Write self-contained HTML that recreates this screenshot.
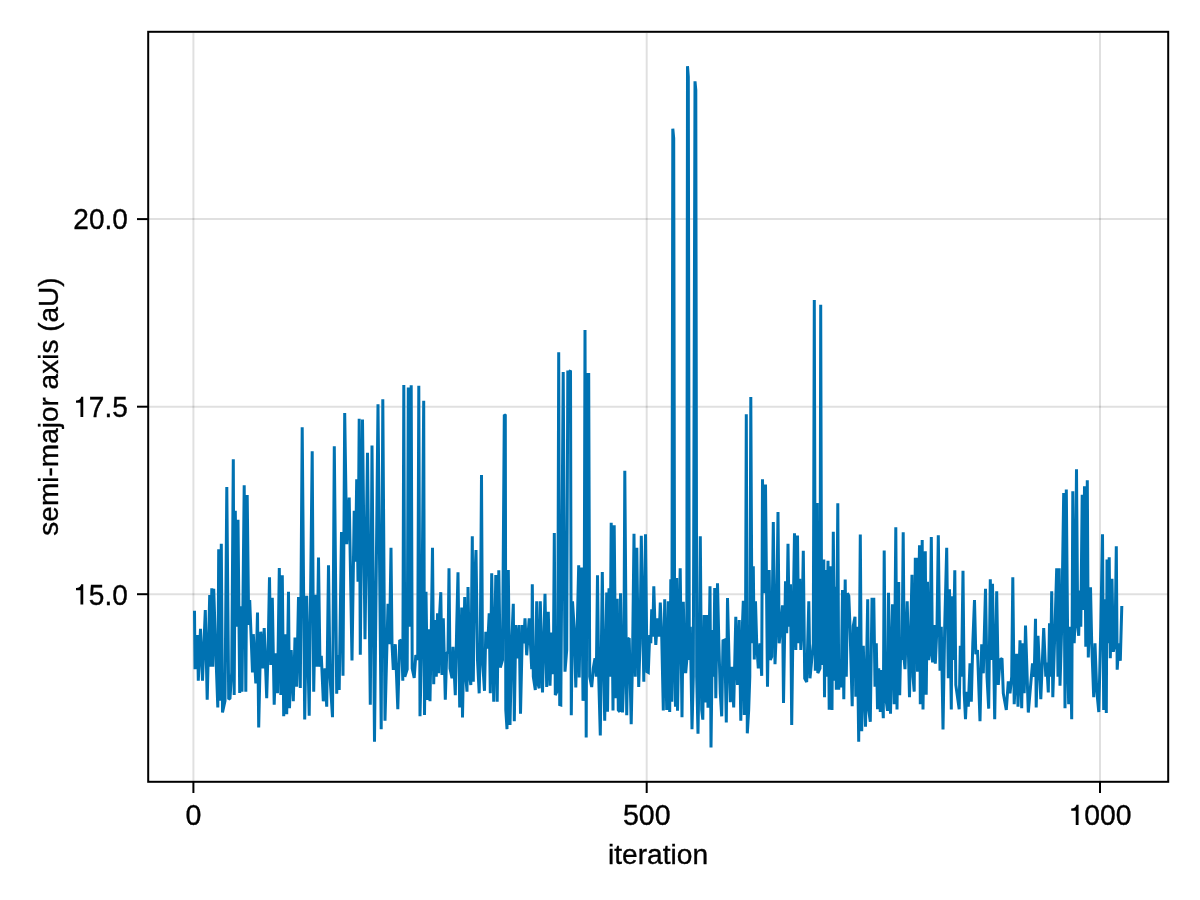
<!DOCTYPE html>
<html><head><meta charset="utf-8"><title>chart</title>
<style>
html,body{margin:0;padding:0;background:#fff;}
body{width:1200px;height:900px;overflow:hidden;}
svg{display:block;}
text{font-family:"Liberation Sans",sans-serif;font-size:28px;fill:#000;}
</style></head><body>
<svg width="1200" height="900" viewBox="0 0 1200 900">
<rect x="0" y="0" width="1200" height="900" fill="#fff"/>
<g stroke="#000" stroke-opacity="0.12" stroke-width="2" fill="none">
<line x1="193.4" y1="33" x2="193.4" y2="782"/>
<line x1="646.7" y1="33" x2="646.7" y2="782"/>
<line x1="1100" y1="33" x2="1100" y2="782"/>
<line x1="149" y1="219.1" x2="1168" y2="219.1"/>
<line x1="149" y1="406.7" x2="1168" y2="406.7"/>
<line x1="149" y1="594.2" x2="1168" y2="594.2"/>
</g>
<path d="M194.5 610.8 L195.0 669.2 L197.5 635.0 L198.3 680.8 L200.5 628.7 L202.5 680.8 L205.3 610.0 L207.2 699.7 L209.7 595.0 L210.7 666.7 L211.8 588.3 L212.8 666.7 L213.7 588.7 L215.5 643.3 L217.8 707.5 L218.7 549.2 L220.0 700.8 L221.3 543.7 L222.5 712.5 L225.0 700.8 L226.8 487.0 L228.7 699.2 L230.0 698.3 L231.7 672.5 L233.3 459.2 L234.2 695.0 L235.3 510.8 L236.7 626.7 L238.0 519.7 L239.7 693.0 L240.8 606.3 L242.0 691.7 L244.2 485.3 L245.8 691.7 L247.2 495.0 L248.7 625.0 L249.7 600.0 L252.5 672.5 L253.3 634.2 L255.8 683.3 L257.5 612.5 L258.7 727.5 L260.8 631.7 L262.8 668.3 L264.2 628.0 L266.7 698.3 L268.3 640.8 L269.5 577.2 L270.8 665.0 L272.3 597.8 L274.2 704.7 L275.8 653.3 L277.5 693.3 L279.3 568.0 L280.8 695.0 L282.3 575.3 L283.7 716.3 L285.0 634.2 L286.7 714.2 L288.5 591.7 L289.5 708.3 L291.2 650.0 L293.3 701.3 L295.0 637.5 L296.7 686.7 L298.5 597.0 L300.3 688.0 L302.2 427.2 L304.7 719.5 L306.7 595.8 L309.2 715.8 L312.2 451.3 L313.7 691.7 L315.5 594.7 L317.0 666.7 L318.5 557.5 L320.0 666.7 L321.3 655.8 L323.3 701.3 L325.0 668.3 L326.7 706.7 L328.5 565.3 L330.0 676.7 L332.5 717.2 L334.3 446.2 L336.7 693.8 L338.0 655.0 L339.2 690.0 L341.5 532.0 L343.0 675.8 L344.7 413.0 L346.7 544.2 L349.2 497.5 L352.0 660.5 L354.2 510.8 L355.5 561.7 L356.7 479.2 L358.0 581.7 L359.2 418.7 L360.3 654.7 L362.5 419.5 L365.0 639.2 L367.5 452.8 L370.3 704.7 L372.0 445.5 L374.5 741.7 L378.0 404.2 L381.2 729.2 L382.8 399.2 L385.0 720.8 L388.0 603.7 L389.5 644.2 L391.0 547.8 L392.0 644.2 L393.3 670.0 L395.3 644.2 L397.8 709.2 L399.7 640.0 L401.7 641.7 L402.8 680.8 L403.8 385.0 L404.8 676.7 L407.2 669.2 L408.3 387.5 L409.3 626.7 L411.2 385.3 L412.2 668.3 L414.2 678.0 L415.8 655.0 L417.7 660.0 L418.8 385.8 L420.0 716.3 L421.7 643.3 L423.7 400.8 L424.5 715.0 L426.0 591.7 L427.5 700.0 L428.7 629.2 L430.0 701.3 L431.3 630.0 L432.5 547.8 L433.7 684.2 L435.0 620.0 L436.3 676.7 L437.5 613.3 L438.7 673.3 L439.7 612.5 L440.8 592.2 L442.0 675.0 L443.3 618.3 L445.3 699.7 L446.7 653.3 L448.0 651.7 L449.0 568.3 L450.0 668.3 L452.0 678.3 L453.0 646.7 L455.3 695.3 L456.7 626.7 L458.0 572.2 L459.7 707.5 L461.7 607.5 L462.5 717.5 L464.7 597.0 L465.8 676.7 L467.0 691.7 L468.0 587.0 L469.7 676.7 L470.8 685.0 L472.3 536.2 L473.3 681.7 L474.3 593.3 L476.0 550.0 L477.5 660.0 L479.2 693.3 L480.3 643.3 L481.5 475.0 L482.5 660.0 L484.5 690.8 L485.8 631.7 L487.5 648.7 L489.2 613.3 L490.3 693.3 L491.7 573.3 L493.7 701.7 L495.8 575.0 L497.2 701.7 L498.8 570.3 L500.3 667.5 L502.5 660.0 L504.3 414.7 L505.3 415.3 L505.8 710.0 L507.0 729.2 L508.3 570.0 L510.0 725.0 L511.7 643.3 L513.3 603.7 L514.3 721.3 L515.8 625.0 L517.5 658.3 L519.2 625.0 L520.5 713.7 L522.5 625.0 L523.7 643.3 L525.0 618.3 L526.7 655.3 L529.2 618.3 L531.7 669.2 L532.3 584.2 L533.3 676.7 L535.3 690.0 L536.7 601.2 L538.3 685.0 L539.2 688.3 L540.3 601.2 L542.5 692.5 L545.0 593.8 L546.7 687.0 L548.3 611.7 L550.0 685.8 L551.7 632.5 L553.3 674.2 L554.3 533.0 L555.3 695.0 L557.7 690.0 L558.7 352.2 L559.7 704.7 L560.8 705.0 L563.2 372.0 L565.0 671.7 L566.7 650.0 L567.8 372.0 L569.3 372.0 L570.5 370.5 L571.3 715.3 L572.5 601.3 L574.2 628.3 L575.8 687.5 L577.2 628.3 L578.7 565.3 L579.2 677.5 L580.3 610.0 L581.7 567.5 L583.0 700.8 L584.0 693.3 L585.0 330.0 L586.2 737.5 L587.5 374.5 L588.7 374.5 L589.7 676.7 L591.7 687.0 L593.3 668.3 L595.0 658.3 L596.3 676.7 L597.5 575.3 L598.7 676.7 L600.3 735.5 L602.3 572.0 L603.3 643.3 L604.7 720.8 L606.7 592.5 L607.5 711.7 L609.0 588.3 L610.0 676.7 L611.2 522.8 L613.0 710.5 L614.2 525.3 L615.8 698.3 L617.2 598.7 L618.3 710.0 L619.7 711.7 L620.5 593.3 L622.5 712.5 L623.8 676.7 L624.8 470.8 L626.7 715.3 L628.0 639.2 L629.2 638.3 L631.2 724.2 L632.5 660.0 L634.0 533.7 L635.3 676.7 L636.8 547.8 L638.7 687.0 L640.0 643.3 L641.3 535.8 L643.8 681.7 L645.5 534.2 L647.0 671.7 L648.3 672.5 L649.7 635.0 L650.8 643.3 L651.7 609.2 L652.7 636.7 L653.8 586.2 L655.0 626.7 L655.8 645.0 L657.5 618.3 L659.2 636.7 L660.3 602.5 L661.7 635.0 L663.3 710.5 L664.7 599.2 L666.7 710.0 L668.3 601.3 L669.7 712.0 L670.8 579.2 L671.8 701.7 L672.8 128.7 L673.7 138.3 L674.7 676.7 L675.5 706.7 L676.7 578.0 L677.5 710.8 L678.7 643.3 L680.2 568.3 L682.0 717.2 L683.3 601.7 L685.0 671.7 L685.8 671.7 L686.8 660.0 L687.5 66.2 L688.3 76.7 L689.3 660.0 L690.3 626.7 L692.0 729.2 L693.3 676.7 L695.0 81.3 L695.8 90.0 L696.7 676.7 L698.0 733.7 L699.2 660.0 L700.3 536.2 L701.7 710.0 L702.8 719.7 L704.2 615.0 L705.3 702.5 L706.7 615.0 L708.0 707.8 L710.0 586.3 L711.0 747.5 L712.5 630.0 L713.7 676.7 L714.7 588.0 L715.8 698.3 L717.5 583.3 L718.8 640.8 L720.3 693.3 L721.7 716.3 L723.0 640.8 L724.7 640.0 L726.3 722.5 L727.5 598.0 L729.2 666.7 L730.3 702.2 L731.7 666.7 L733.7 707.5 L735.8 616.7 L737.5 685.0 L739.2 620.0 L740.8 720.8 L742.5 623.3 L743.3 600.8 L744.3 715.0 L745.3 693.3 L746.3 414.2 L747.3 733.3 L748.7 710.0 L749.8 676.7 L750.8 397.0 L752.0 643.3 L753.3 566.2 L754.3 659.5 L755.5 601.3 L756.7 643.3 L758.3 668.3 L760.0 643.3 L761.7 675.8 L762.5 479.2 L764.0 593.3 L765.5 484.5 L767.5 686.7 L769.2 570.0 L770.3 660.0 L771.7 656.7 L773.3 522.0 L775.0 664.2 L776.5 626.7 L778.0 512.0 L779.2 643.3 L780.8 626.7 L782.5 605.3 L783.5 703.0 L785.5 581.2 L786.7 633.3 L788.0 543.8 L789.2 626.7 L790.5 584.2 L791.7 725.0 L793.0 626.7 L794.5 533.3 L795.8 650.0 L797.5 535.5 L798.7 643.3 L799.7 578.7 L800.8 650.0 L802.0 626.7 L803.3 550.8 L804.7 678.3 L806.7 682.0 L808.8 601.3 L810.0 678.3 L811.7 660.0 L813.3 643.3 L814.3 300.0 L815.3 670.8 L817.2 503.0 L817.8 673.0 L820.0 668.3 L820.7 304.8 L821.7 665.0 L823.8 559.5 L824.5 697.2 L825.5 570.0 L826.3 676.7 L828.0 560.8 L829.2 709.7 L830.8 566.2 L832.0 710.0 L833.3 531.7 L834.7 680.8 L835.5 586.7 L836.3 689.7 L837.8 503.3 L838.7 689.7 L840.0 660.0 L841.2 687.5 L842.5 590.0 L843.8 699.2 L845.2 579.5 L846.3 676.7 L847.5 593.3 L848.8 595.8 L850.0 626.7 L852.2 706.3 L853.3 625.8 L855.0 616.7 L855.8 696.7 L857.2 626.7 L858.7 741.7 L860.3 534.5 L861.7 731.3 L863.3 645.8 L865.5 726.7 L867.7 599.2 L868.7 710.0 L870.3 721.7 L872.0 599.2 L873.8 599.2 L875.0 686.7 L876.3 643.3 L877.5 709.2 L878.7 668.3 L880.3 712.0 L881.2 670.0 L883.3 718.3 L884.2 550.5 L885.3 693.3 L887.5 710.8 L888.5 592.8 L890.5 713.7 L892.5 604.2 L894.2 704.2 L895.8 527.2 L897.0 709.5 L898.7 582.0 L899.7 695.3 L900.8 643.3 L902.0 660.0 L903.2 532.2 L904.2 660.0 L905.0 669.2 L907.2 601.3 L909.5 697.2 L910.8 626.7 L912.0 574.7 L913.0 676.7 L914.2 691.7 L915.3 559.2 L916.7 559.2 L917.5 671.7 L919.5 545.3 L920.3 704.2 L922.2 540.0 L923.0 709.5 L925.3 551.2 L926.2 694.7 L927.5 581.7 L928.7 660.0 L930.0 651.7 L931.3 537.0 L932.5 662.5 L934.2 625.0 L935.3 663.8 L937.0 626.7 L938.3 535.3 L940.0 670.8 L941.3 626.7 L943.0 729.5 L944.7 626.7 L946.7 547.8 L948.3 678.3 L949.5 589.2 L951.3 709.5 L952.0 596.3 L953.3 660.0 L954.8 570.3 L955.8 685.0 L959.2 709.2 L960.3 645.8 L961.5 676.7 L963.0 570.8 L964.2 693.3 L965.5 719.2 L966.7 691.7 L968.3 706.7 L970.0 663.3 L971.3 701.7 L972.8 643.3 L974.5 600.0 L975.8 654.2 L977.5 650.0 L980.0 721.2 L981.7 644.2 L983.3 673.3 L985.5 588.7 L987.0 676.7 L988.7 708.7 L990.3 579.2 L991.7 660.0 L992.5 583.8 L994.7 719.2 L996.7 591.3 L998.3 685.0 L1000.0 660.0 L1002.0 658.3 L1003.3 693.3 L1006.3 710.0 L1008.3 681.3 L1010.0 693.3 L1011.7 676.7 L1012.8 577.2 L1014.2 704.2 L1016.7 653.7 L1018.0 706.7 L1020.0 640.3 L1021.7 708.3 L1022.8 643.3 L1024.2 693.3 L1025.5 625.5 L1028.3 712.5 L1032.5 663.3 L1034.2 676.7 L1035.5 618.7 L1036.2 707.5 L1038.0 635.8 L1040.8 699.2 L1043.7 628.0 L1045.8 676.7 L1046.7 662.5 L1048.3 692.5 L1049.5 623.3 L1050.5 676.7 L1051.7 591.3 L1052.8 697.2 L1055.0 626.7 L1056.7 568.3 L1058.0 676.7 L1059.2 568.3 L1060.0 685.8 L1061.7 626.7 L1063.7 493.0 L1065.0 708.3 L1066.3 489.5 L1068.0 676.7 L1068.7 704.2 L1070.0 626.7 L1071.7 719.2 L1072.8 491.2 L1074.2 643.3 L1075.3 610.0 L1076.5 469.2 L1077.7 626.7 L1078.7 635.8 L1079.7 590.5 L1080.8 626.7 L1082.2 494.7 L1083.3 610.0 L1084.5 486.2 L1085.8 646.7 L1087.3 480.3 L1088.3 657.5 L1089.7 610.0 L1090.5 587.2 L1091.7 643.3 L1093.7 697.2 L1095.0 643.3 L1096.7 690.0 L1098.8 712.0 L1100.8 626.7 L1102.5 534.2 L1103.7 710.0 L1105.0 599.2 L1106.3 713.0 L1107.0 559.5 L1108.0 643.3 L1109.2 557.2 L1110.3 658.3 L1112.0 578.7 L1113.3 651.7 L1115.0 643.3 L1116.3 546.2 L1117.2 669.7 L1118.7 643.3 L1120.3 660.8 L1121.8 606.0" fill="none" stroke="#0072B2" stroke-width="3" stroke-linejoin="miter" stroke-miterlimit="2" stroke-linecap="butt"/>
<rect x="148.2" y="31.8" width="1020" height="750" fill="none" stroke="#000" stroke-width="2"/>
<g stroke="#000" stroke-width="2">
<line x1="137" y1="219.1" x2="148" y2="219.1"/>
<line x1="137" y1="406.7" x2="148" y2="406.7"/>
<line x1="137" y1="594.2" x2="148" y2="594.2"/>
<line x1="193.4" y1="782" x2="193.4" y2="793"/>
<line x1="646.7" y1="782" x2="646.7" y2="793"/>
<line x1="1100" y1="782" x2="1100" y2="793"/>
</g>
<g style="opacity:0.999" stroke="#000" stroke-width="0.35">
<text text-anchor="end" transform="translate(127.8,229.4) scale(1,1.07)">20.0</text>
<g transform="translate(73.31,417.0) scale(1,1.07)"><path d="M9.95,0 L9.95,-18.9 L7.9,-18.9 Q7.3,-15.6 2.7,-15.35 L2.7,-13.3 L7.15,-13.3 L7.15,0 Z" stroke="none" fill="#000"/><text x="15.568" y="0">7.5</text></g>
<g transform="translate(73.31,604.5) scale(1,1.07)"><path d="M9.95,0 L9.95,-18.9 L7.9,-18.9 Q7.3,-15.6 2.7,-15.35 L2.7,-13.3 L7.15,-13.3 L7.15,0 Z" stroke="none" fill="#000"/><text x="15.568" y="0">5.0</text></g>
<text text-anchor="middle" transform="translate(193.4,825) scale(1.02,1.07)">0</text>
<text text-anchor="middle" transform="translate(646.7,825) scale(1.02,1.07)">500</text>
<g transform="translate(1068.5,825) scale(1.012,1.07)"><path d="M9.95,0 L9.95,-18.9 L7.9,-18.9 Q7.3,-15.6 2.7,-15.35 L2.7,-13.3 L7.15,-13.3 L7.15,0 Z" stroke="none" fill="#000"/><text x="15.568" y="0">000</text></g>
<text text-anchor="middle" transform="translate(658,863.7) scale(1.005,1.0)">iteration</text>
<text text-anchor="middle" transform="translate(57.5,406.5) rotate(-90)">semi-major axis (aU)</text>
</g>
</svg>
</body></html>
